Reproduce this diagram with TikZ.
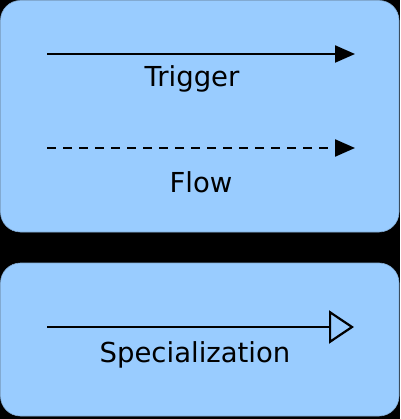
\documentclass[tikz,border=0pt]{standalone}
\usepackage{fontspec}
\setmainfont{DejaVu Sans}
\usetikzlibrary{arrows.meta}
\begin{document}
\begin{tikzpicture}[x=1pt,y=-1pt,
  panel/.style={fill={rgb,255:red,153;green,204;blue,255},draw={rgb,255:red,130;green,170;blue,210},line width=0.6pt,rounded corners=20pt},
  lbl/.style={anchor=base,font=\fontsize{27.5}{32}\selectfont,inner sep=0pt,text=black},
  conn/.style={line width=2.2pt,draw=black},
  trig/.style={conn,-{Triangle[length=20pt,width=17pt]}},
  flw/.style={conn,dash pattern=on 9pt off 7pt,-{Triangle[length=20pt,width=17pt]}},
  spec/.style={conn,-{Triangle[open,length=25pt,width=33pt,fill={rgb,255:red,153;green,204;blue,255}]}}]
\useasboundingbox (0,0) rectangle (400,419);
\fill[black] (0,0) rectangle (400,419);
\draw[panel] (0.5,0.5) rectangle (399,232);
\draw[panel] (0.5,263) rectangle (399,416);
\coordinate (ta) at (47,54);
\coordinate (tb) at (355,54);
\coordinate (fa) at (47,148);
\coordinate (fb) at (355,148);
\coordinate (sa) at (47,327);
\coordinate (sb) at (354,327);
\draw[trig] (ta) -- (tb);
\draw[flw] (fa) -- (fb);
\draw[spec] (sa) -- (sb);
\node[lbl] (trigger) at (192,87) {Trigger};
\node[lbl] (flow) at (201,193) {Flow};
\node[lbl] (special) at (195,362) {Specialization};
\end{tikzpicture}
\end{document}
